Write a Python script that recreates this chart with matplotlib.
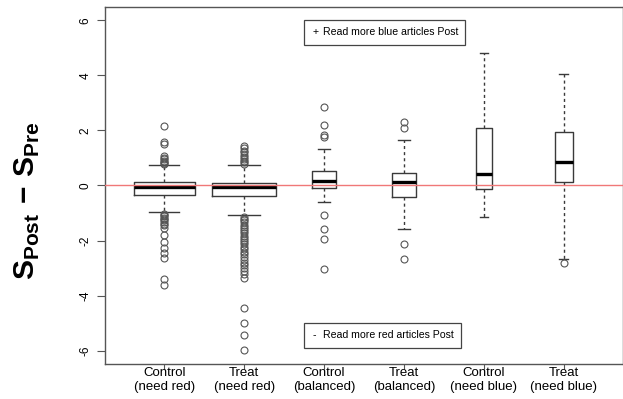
import matplotlib
matplotlib.use('Agg')
import matplotlib.pyplot as plt
from matplotlib.patches import Rectangle

plt.rcParams['font.family'] = ['Liberation Sans', 'DejaVu Sans']
plt.rcParams['mathtext.fontset'] = 'custom'
plt.rcParams['mathtext.rm'] = 'Liberation Sans'
plt.rcParams['mathtext.bf'] = 'Liberation Sans:bold'

# group labels
labels = ['Control\n(need red)', 'Treat\n(need red)', 'Control\n(balanced)',
          'Treat\n(balanced)', 'Control\n(need blue)', 'Treat\n(need blue)']

# box statistics
medians = [-0.06, -0.07, 0.17, 0.12, 0.41, 0.87]
q1 = [-0.33, -0.39, -0.09, -0.41, -0.11, 0.11]
q3 = [0.11, 0.09, 0.53, 0.47, 2.08, 1.96]
whis_lo = [-0.97, -1.07, -0.59, -1.59, -1.13, -2.68]
whis_hi = [0.73, 0.73, 1.31, 1.64, 4.80, 4.03]
box_widths = [0.76, 0.80, 0.30, 0.30, 0.20, 0.22]

# outliers
fliers = [
    [2.17, 1.58, 1.52, 1.08, 1.0, 0.95, 0.9, 0.85, 0.8, 0.77,
     -1.02, -1.07, -1.12, -1.17, -1.22, -1.27, -1.32, -1.38, -1.44, -1.55,
     -1.8, -2.04, -2.27, -2.45, -2.65, -3.38, -3.62],
    [1.43, 1.35, 1.27, 1.2, 1.12, 1.05, 0.98, 0.9, 0.84, 0.78,
     -1.14, -1.2, -1.27, -1.34, -1.42, -1.5, -1.58, -1.66, -1.74, -1.82,
     -1.9, -1.98, -2.06, -2.14, -2.22, -2.3, -2.4, -2.5, -2.6, -2.7,
     -2.8, -2.9, -3.0, -3.12, -3.23, -3.35, -4.45, -4.99, -5.42, -5.96],
    [2.84, 2.18, 1.82, 1.76, -1.06, -1.58, -1.93, -3.03],
    [2.3, 2.07, -2.11, -2.67],
    [],
    [-2.8],
]

positions = list(range(1, len(labels) + 1))

stats = []
for i in range(len(labels)):
    stats.append({'med': medians[i], 'q1': q1[i], 'q3': q3[i],
                  'whislo': whis_lo[i], 'whishi': whis_hi[i],
                  'fliers': fliers[i]})

fig = plt.figure(figsize=(6.23, 3.99), dpi=100)
ax = fig.add_axes([105 / 623, 1 - 364 / 399, 518 / 623, 357 / 399])

edge = '#3a3a3a'
ax.bxp(stats, positions=positions, widths=box_widths,
       capwidths=[w * 0.5 for w in box_widths],
       boxprops=dict(color=edge, linewidth=1.0),
       medianprops=dict(color='black', linewidth=2.4),
       whiskerprops=dict(color=edge, linewidth=1.0, linestyle=(0, (2.2, 2.2))),
       capprops=dict(color=edge, linewidth=1.0),
       flierprops=dict(marker='o', markerfacecolor='none', markeredgecolor='#555555',
                       markersize=5, markeredgewidth=0.8))

ax.axhline(0, color='#f07878', linewidth=1.0, zorder=5)

ax.set_xlim(0.26, 6.74)
ax.set_ylim(-6.48, 6.48)
ax.set_yticks([-6, -4, -2, 0, 2, 4, 6])
ax.set_yticklabels(['-6', '-4', '-2', '0', '2', '4', '6'], rotation=90, va='center')
ax.set_xticks(positions)
ax.set_xticklabels(labels, fontsize=9.5, linespacing=1.25)
ax.tick_params(axis='y', labelsize=8.5, length=5.5, width=0.8, color='#555555', pad=4)
ax.tick_params(axis='x', length=3.5, width=0.8, color='#555555', pad=-1.5)

for s in ax.spines.values():
    s.set_color('#555555')
    s.set_linewidth(1.0)

# legend-like boxes
ax.add_patch(Rectangle((0.384, 0.894), 0.311, 0.070, transform=ax.transAxes,
                       fill=False, edgecolor='#444444', linewidth=0.9))
ax.text(0.400, 0.929, '+', transform=ax.transAxes, fontsize=7.6, va='center')
ax.text(0.421, 0.929, 'Read more blue articles Post', transform=ax.transAxes,
        fontsize=7.6, va='center')
ax.add_patch(Rectangle((0.384, 0.045), 0.303, 0.070, transform=ax.transAxes,
                       fill=False, edgecolor='#444444', linewidth=0.9))
ax.text(0.400, 0.080, '-', transform=ax.transAxes, fontsize=7.6, va='center')
ax.text(0.421, 0.080, 'Read more red articles Post', transform=ax.transAxes,
        fontsize=7.6, va='center')

fig.text(27 / 623, 1 - 201 / 399, r'$\mathbf{S}_{\mathbf{Post}}\ \mathbf{-}\ \mathbf{S}_{\mathbf{Pre}}$',
         rotation=90, ha='center', va='center', fontsize=21.5)

fig.savefig('out.png', dpi=100)
